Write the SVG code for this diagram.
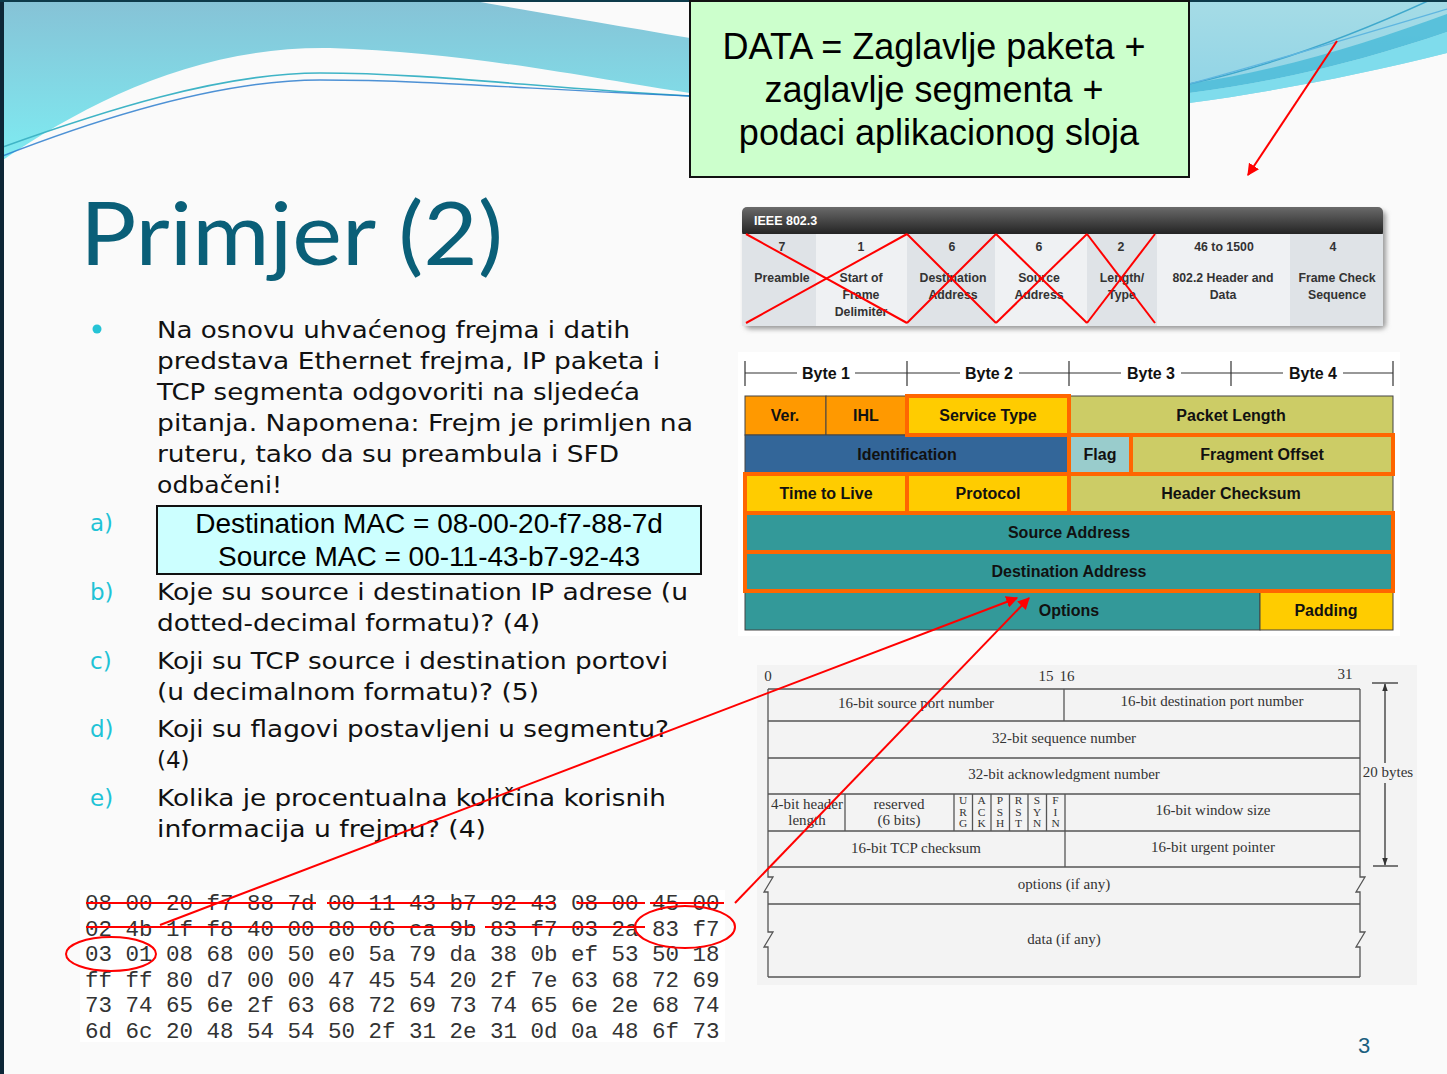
<svg xmlns="http://www.w3.org/2000/svg" width="1447" height="1074" viewBox="0 0 1447 1074">
  <defs>
    <style>
      .body { font-family: "DejaVu Sans", Verdana, sans-serif; font-size: 23px; fill: #111; }
      .lbl { font-family: "DejaVu Sans", Verdana, sans-serif; font-size: 23px; fill: #1fc3d6; }
      .arial { font-family: "Liberation Sans", Arial, sans-serif; }
      .ieee { font-family: "Liberation Sans", Arial, sans-serif; font-size: 12.3px; font-weight: bold; fill: #333; text-anchor: middle; }
      .ip { font-family: "Liberation Sans", Arial, sans-serif; font-size: 16px; font-weight: bold; fill: #111; text-anchor: middle; }
      .ipcell { stroke: #444; stroke-width: 1; }
      .hl { fill: none; stroke: #ff6600; stroke-width: 4; }
      .tcp { font-family: "Liberation Serif", "Times New Roman", serif; font-size: 15px; fill: #333; text-anchor: middle; }
      .flag { font-family: "Liberation Serif", "Times New Roman", serif; font-size: 11.4px; fill: #333; text-anchor: middle; }
      .tline { stroke: #555; stroke-width: 1.3; fill: none; }
      .hex { font-family: "Liberation Mono", "Courier New", monospace; font-size: 22.5px; fill: #333; }
      .red { stroke: #ff0000; stroke-width: 2; fill: none; }
    </style>
    <linearGradient id="skyL" x1="0" y1="0" x2="0" y2="1">
      <stop offset="0" stop-color="#86c2d6"/>
      <stop offset="1" stop-color="#7eecf2"/>
    </linearGradient>
    <linearGradient id="skyR" x1="0" y1="0" x2="0" y2="1">
      <stop offset="0" stop-color="#a6dce6"/>
      <stop offset="1" stop-color="#8ed3e6"/>
    </linearGradient>
    <linearGradient id="bar" x1="0" y1="0" x2="0" y2="1">
      <stop offset="0" stop-color="#6a6a6a"/>
      <stop offset="1" stop-color="#1c1c1c"/>
    </linearGradient>
    <filter id="soft" x="-5%" y="-5%" width="110%" height="120%">
      <feGaussianBlur stdDeviation="2.5"/>
    </filter>
    <marker id="arrow" viewBox="0 0 10 10" refX="9" refY="5" markerWidth="6" markerHeight="6" orient="auto" markerUnits="strokeWidth">
      <path d="M0,0 L10,5 L0,10 z" fill="#ff0000"/>
    </marker>
    <marker id="dimTip" viewBox="0 0 10 10" refX="9" refY="5" markerWidth="8" markerHeight="8" orient="auto" markerUnits="userSpaceOnUse">
      <path d="M0,1.5 L10,5 L0,8.5 z" fill="#333"/>
    </marker>
  </defs>

  <!-- slide background -->
  <rect x="0" y="0" width="1447" height="1074" fill="#fafafa"/>

  <!-- decorative swoosh, left -->
  <g id="swoosh-left">
    <path d="M0,0 L690,0 L690,93 C600,80 470,52 330,48 C200,46 90,100 0,162 Z" fill="url(#skyL)"/>
    <path d="M470,0 L690,0 L690,38 C610,24 540,13 470,0 Z" fill="#fafafa"/>
    <path d="M0,148 C100,112 220,73 320,73 C430,73 540,88 690,96" fill="none" stroke="#3fb4c6" stroke-width="1.6"/>
    <path d="M0,157 C100,118 220,80 320,80 C430,80 540,90 690,96" fill="none" stroke="#2277cc" stroke-width="1.4" opacity="0.8"/>
  </g>

  <!-- decorative swoosh, right -->
  <g id="swoosh-right">
    <path d="M1189,0 L1447,0 L1447,53 C1360,75 1270,92 1189,103 Z" fill="url(#skyR)"/>
    <path d="M1189,84 C1290,68 1370,42 1447,14 L1447,32 C1370,58 1290,80 1189,93 Z" fill="#4cbcd8" opacity="0.85"/>
    <path d="M1189,93 C1290,80 1370,58 1447,32 L1447,53 C1360,75 1270,92 1189,103 Z" fill="#7fdcec"/>
    <path d="M1189,84 C1280,64 1360,32 1430,0" fill="none" stroke="#3fa8cc" stroke-width="1.4"/>
    <path d="M1189,84 C1270,62 1330,44 1447,9" fill="none" stroke="#5fb6e0" stroke-width="1.2"/>
  </g>

  <!-- slide frame edges -->
  <rect x="0" y="0" width="4" height="1074" fill="#0d2636"/>
  <rect x="0" y="0" width="1447" height="2" fill="#0d3a4a"/>

  <!-- title -->
  <text x="80" y="265" font-family="Lato, 'Open Sans', sans-serif" font-size="88" fill="#0a5f78" textLength="423" lengthAdjust="spacingAndGlyphs">Primjer (2)</text>

  <!-- DATA definition box -->
  <g id="data-box">
    <rect x="690" y="1" width="499" height="176" fill="#ccffcc" stroke="#111" stroke-width="2"/>
    <text class="arial" x="934" y="59" font-size="36" text-anchor="middle" fill="#000">DATA = Zaglavlje paketa +</text>
    <text class="arial" x="934" y="102" font-size="36" text-anchor="middle" fill="#000">zaglavlje segmenta +</text>
    <text class="arial" x="939" y="145" font-size="36" text-anchor="middle" fill="#000">podaci aplikacionog sloja</text>
  </g>

  <!-- question text -->
  <g id="questions">
    <circle cx="97" cy="329" r="4.5" fill="#25c3d5"/>
    <text class="body" x="157" y="338" textLength="473" lengthAdjust="spacingAndGlyphs">Na osnovu uhvaćenog frejma i datih</text>
    <text class="body" x="157" y="369" textLength="503" lengthAdjust="spacingAndGlyphs">predstava Ethernet frejma, IP paketa i</text>
    <text class="body" x="157" y="400" textLength="483" lengthAdjust="spacingAndGlyphs">TCP segmenta odgovoriti na sljedeća</text>
    <text class="body" x="157" y="431" textLength="536" lengthAdjust="spacingAndGlyphs">pitanja. Napomena: Frejm je primljen na</text>
    <text class="body" x="157" y="462" textLength="462" lengthAdjust="spacingAndGlyphs">ruteru, tako da su preambula i SFD</text>
    <text class="body" x="157" y="493" textLength="125" lengthAdjust="spacingAndGlyphs">odbačeni!</text>

    <text class="lbl" x="90" y="531">a)</text>
    <text class="lbl" x="90" y="600">b)</text>
    <text class="body" x="157" y="600" textLength="531" lengthAdjust="spacingAndGlyphs">Koje su source i destination IP adrese (u</text>
    <text class="body" x="157" y="631" textLength="383" lengthAdjust="spacingAndGlyphs">dotted-decimal formatu)? (4)</text>
    <text class="lbl" x="90" y="669">c)</text>
    <text class="body" x="157" y="669" textLength="511" lengthAdjust="spacingAndGlyphs">Koji su TCP source i destination portovi</text>
    <text class="body" x="157" y="700" textLength="382" lengthAdjust="spacingAndGlyphs">(u decimalnom formatu)? (5)</text>
    <text class="lbl" x="90" y="737">d)</text>
    <text class="body" x="157" y="737" textLength="512" lengthAdjust="spacingAndGlyphs">Koji su flagovi postavljeni u segmentu?</text>
    <text class="body" x="157" y="768">(4)</text>
    <text class="lbl" x="90" y="806">e)</text>
    <text class="body" x="157" y="806" textLength="509" lengthAdjust="spacingAndGlyphs">Kolika je procentualna količina korisnih</text>
    <text class="body" x="157" y="837" textLength="329" lengthAdjust="spacingAndGlyphs">informacija u frejmu? (4)</text>
  </g>

  <!-- answer box for a) -->
  <g id="mac-box">
    <rect x="157" y="506" width="544" height="68" fill="#ccffff" stroke="#111" stroke-width="2"/>
    <text class="arial" x="429" y="533" font-size="28" text-anchor="middle" fill="#000">Destination MAC = 08-00-20-f7-88-7d</text>
    <text class="arial" x="429" y="566" font-size="28" text-anchor="middle" fill="#000">Source MAC = 00-11-43-b7-92-43</text>
  </g>

  <!-- IEEE 802.3 frame -->
  <g id="ieee-frame">
    <rect x="745" y="211" width="641" height="118" rx="5" fill="#9a9a9a" filter="url(#soft)"/>
    <rect x="742" y="207" width="641" height="30" rx="5" fill="url(#bar)"/>
    <rect x="742" y="234" width="74" height="92" fill="#dfe3e7"/>
    <rect x="816" y="234" width="91" height="92" fill="#eff1f3"/>
    <rect x="907" y="234" width="88" height="92" fill="#dfe3e7"/>
    <rect x="995" y="234" width="92" height="92" fill="#eff1f3"/>
    <rect x="1087" y="234" width="70" height="92" fill="#dfe3e7"/>
    <rect x="1157" y="234" width="133" height="92" fill="#eff1f3"/>
    <rect x="1290" y="234" width="93" height="92" fill="#dfe3e7"/>
    <text x="754" y="225" font-family="Liberation Sans, Arial, sans-serif" font-size="12.5" font-weight="bold" fill="#fff">IEEE 802.3</text>

    <text class="ieee" x="782" y="251">7</text>
    <text class="ieee" x="861" y="251">1</text>
    <text class="ieee" x="952" y="251">6</text>
    <text class="ieee" x="1039" y="251">6</text>
    <text class="ieee" x="1121" y="251">2</text>
    <text class="ieee" x="1224" y="251">46 to 1500</text>
    <text class="ieee" x="1333" y="251">4</text>

    <text class="ieee" x="782" y="282">Preamble</text>
    <text class="ieee" x="861" y="282">Start of</text>
    <text class="ieee" x="861" y="299">Frame</text>
    <text class="ieee" x="861" y="316">Delimiter</text>
    <text class="ieee" x="953" y="282">Destination</text>
    <text class="ieee" x="953" y="299">Address</text>
    <text class="ieee" x="1039" y="282">Source</text>
    <text class="ieee" x="1039" y="299">Address</text>
    <text class="ieee" x="1122" y="282">Length/</text>
    <text class="ieee" x="1122" y="299">Type</text>
    <text class="ieee" x="1223" y="282">802.2 Header and</text>
    <text class="ieee" x="1223" y="299">Data</text>
    <text class="ieee" x="1337" y="282">Frame Check</text>
    <text class="ieee" x="1337" y="299">Sequence</text>
  </g>

  <!-- IPv4 header -->
  <g id="ip-header">
    <rect x="738" y="352" width="662" height="284" fill="#ffffff"/>
    <g stroke="#333" stroke-width="1.2">
      <line x1="745" y1="361" x2="745" y2="386"/>
      <line x1="907" y1="361" x2="907" y2="386"/>
      <line x1="1069" y1="361" x2="1069" y2="386"/>
      <line x1="1231" y1="361" x2="1231" y2="386"/>
      <line x1="1393" y1="361" x2="1393" y2="386"/>
      <line x1="745" y1="373" x2="797" y2="373"/>
      <line x1="855" y1="373" x2="907" y2="373"/>
      <line x1="907" y1="373" x2="960" y2="373"/>
      <line x1="1019" y1="373" x2="1069" y2="373"/>
      <line x1="1069" y1="373" x2="1121" y2="373"/>
      <line x1="1181" y1="373" x2="1231" y2="373"/>
      <line x1="1231" y1="373" x2="1283" y2="373"/>
      <line x1="1343" y1="373" x2="1393" y2="373"/>
    </g>
    <text class="ip" x="826" y="379">Byte 1</text>
    <text class="ip" x="989" y="379">Byte 2</text>
    <text class="ip" x="1151" y="379">Byte 3</text>
    <text class="ip" x="1313" y="379">Byte 4</text>

    <rect class="ipcell" x="745" y="396" width="81" height="39" fill="#ff9900"/>
    <rect class="ipcell" x="826" y="396" width="81" height="39" fill="#ff9900"/>
    <rect class="ipcell" x="907" y="396" width="162" height="39" fill="#ffcc00"/>
    <rect class="ipcell" x="1069" y="396" width="324" height="39" fill="#cccc66"/>
    <rect class="ipcell" x="745" y="435" width="324" height="39" fill="#336699"/>
    <rect class="ipcell" x="1069" y="435" width="62" height="39" fill="#99cccc"/>
    <rect class="ipcell" x="1131" y="435" width="262" height="39" fill="#cccc66"/>
    <rect class="ipcell" x="745" y="474" width="162" height="39" fill="#ffcc00"/>
    <rect class="ipcell" x="907" y="474" width="162" height="39" fill="#ffcc00"/>
    <rect class="ipcell" x="1069" y="474" width="324" height="39" fill="#cccc66"/>
    <rect class="ipcell" x="745" y="513" width="648" height="39" fill="#339999"/>
    <rect class="ipcell" x="745" y="552" width="648" height="39" fill="#339999"/>
    <rect class="ipcell" x="745" y="591" width="515" height="39" fill="#339999"/>
    <rect class="ipcell" x="1260" y="591" width="133" height="39" fill="#ffcc00"/>

    <rect class="hl" x="907" y="396" width="162" height="39"/>
    <rect class="hl" x="1069" y="435" width="62" height="39"/>
    <rect class="hl" x="1131" y="435" width="262" height="39"/>
    <rect class="hl" x="745" y="474" width="162" height="39"/>
    <rect class="hl" x="907" y="474" width="162" height="39"/>
    <rect class="hl" x="745" y="513" width="648" height="39"/>
    <rect class="hl" x="745" y="552" width="648" height="39"/>

    <text class="ip" x="785" y="421">Ver.</text>
    <text class="ip" x="866" y="421">IHL</text>
    <text class="ip" x="988" y="421">Service Type</text>
    <text class="ip" x="1231" y="421">Packet Length</text>
    <text class="ip" x="907" y="460">Identification</text>
    <text class="ip" x="1100" y="460">Flag</text>
    <text class="ip" x="1262" y="460">Fragment Offset</text>
    <text class="ip" x="826" y="499">Time to Live</text>
    <text class="ip" x="988" y="499">Protocol</text>
    <text class="ip" x="1231" y="499">Header Checksum</text>
    <text class="ip" x="1069" y="538">Source Address</text>
    <text class="ip" x="1069" y="577">Destination Address</text>
    <text class="ip" x="1069" y="616">Options</text>
    <text class="ip" x="1326" y="616">Padding</text>
  </g>

  <!-- TCP header -->
  <g id="tcp-header">
    <rect x="757" y="665" width="660" height="320" fill="#f3f3f3"/>
    <text class="tcp" x="768" y="681" text-anchor="start" font-size="13.5">0</text>
    <text class="tcp" x="1046" y="681" text-anchor="start" font-size="13.5">15</text>
    <text class="tcp" x="1067" y="681" text-anchor="start" font-size="13.5">16</text>
    <text class="tcp" x="1345" y="679" text-anchor="start" font-size="13.5">31</text>

    <g class="tline">
      <line x1="768" y1="689" x2="1360" y2="689"/>
      <line x1="768" y1="721" x2="1360" y2="721"/>
      <line x1="768" y1="758" x2="1360" y2="758"/>
      <line x1="768" y1="794" x2="1360" y2="794"/>
      <line x1="768" y1="831" x2="1360" y2="831"/>
      <line x1="768" y1="867" x2="1360" y2="867"/>
      <line x1="768" y1="904" x2="1360" y2="904"/>
      <line x1="768" y1="977" x2="1360" y2="977"/>
      <line x1="1064" y1="689" x2="1064" y2="721"/>
      <line x1="845" y1="794" x2="845" y2="831"/>
      <line x1="954" y1="794" x2="954" y2="831"/>
      <line x1="972.5" y1="794" x2="972.5" y2="831"/>
      <line x1="991" y1="794" x2="991" y2="831"/>
      <line x1="1009.5" y1="794" x2="1009.5" y2="831"/>
      <line x1="1028" y1="794" x2="1028" y2="831"/>
      <line x1="1046.5" y1="794" x2="1046.5" y2="831"/>
      <line x1="1065" y1="794" x2="1065" y2="867"/>
      <path d="M768,689 V877 L773,877 L764,892 L768,892 V932 L773,932 L764,947 L768,947 V977"/>
      <path d="M1360,689 V877 L1365,877 L1356,892 L1360,892 V932 L1365,932 L1356,947 L1360,947 V977"/>
    </g>

    <text class="tcp" x="916" y="708">16-bit source port number</text>
    <text class="tcp" x="1212" y="706">16-bit destination port number</text>
    <text class="tcp" x="1064" y="743">32-bit sequence number</text>
    <text class="tcp" x="1064" y="779">32-bit acknowledgment number</text>
    <text class="tcp" x="807" y="809" font-size="14">4-bit header</text>
    <text class="tcp" x="807" y="825" font-size="14">length</text>
    <text class="tcp" x="899" y="809" font-size="14">reserved</text>
    <text class="tcp" x="899" y="825" font-size="14">(6 bits)</text>
    <text class="flag" x="963" y="804">U</text><text class="flag" x="963" y="815.6">R</text><text class="flag" x="963" y="827.2">G</text>
    <text class="flag" x="981.5" y="804">A</text><text class="flag" x="981.5" y="815.6">C</text><text class="flag" x="981.5" y="827.2">K</text>
    <text class="flag" x="1000" y="804">P</text><text class="flag" x="1000" y="815.6">S</text><text class="flag" x="1000" y="827.2">H</text>
    <text class="flag" x="1018.5" y="804">R</text><text class="flag" x="1018.5" y="815.6">S</text><text class="flag" x="1018.5" y="827.2">T</text>
    <text class="flag" x="1037" y="804">S</text><text class="flag" x="1037" y="815.6">Y</text><text class="flag" x="1037" y="827.2">N</text>
    <text class="flag" x="1055.5" y="804">F</text><text class="flag" x="1055.5" y="815.6">I</text><text class="flag" x="1055.5" y="827.2">N</text>
    <text class="tcp" x="1213" y="815">16-bit window size</text>
    <text class="tcp" x="916" y="853">16-bit TCP checksum</text>
    <text class="tcp" x="1213" y="852">16-bit urgent pointer</text>
    <text class="tcp" x="1064" y="889">options (if any)</text>
    <text class="tcp" x="1064" y="944">data (if any)</text>

    <!-- 20-byte span marker -->
    <g stroke="#333" stroke-width="1.3">
      <line x1="1372" y1="683" x2="1398" y2="683"/>
      <line x1="1373" y1="866" x2="1398" y2="866"/>
      <line x1="1385" y1="763" x2="1385" y2="684" marker-end="url(#dimTip)"/>
      <line x1="1385" y1="783" x2="1385" y2="865" marker-end="url(#dimTip)"/>
    </g>
    <text class="tcp" x="1388" y="777" font-size="14">20 bytes</text>
  </g>

  <!-- captured frame, hex -->
  <g id="hex-dump">
    <rect x="80" y="890" width="645" height="152" fill="#ffffff"/>
    <text class="hex" x="85" y="910">08 00 20 f7 88 7d 00 11 43 b7 92 43 08 00 45 00</text>
    <text class="hex" x="85" y="935.5">02 4b 1f f8 40 00 80 06 ca 9b 83 f7 03 2a 83 f7</text>
    <text class="hex" x="85" y="961">03 01 08 68 00 50 e0 5a 79 da 38 0b ef 53 50 18</text>
    <text class="hex" x="85" y="986.5">ff ff 80 d7 00 00 47 45 54 20 2f 7e 63 68 72 69</text>
    <text class="hex" x="85" y="1012">73 74 65 6e 2f 63 68 72 69 73 74 65 6e 2e 68 74</text>
    <text class="hex" x="85" y="1037.5">6d 6c 20 48 54 54 50 2f 31 2e 31 0d 0a 48 6f 73</text>
  </g>

  <!-- red markings: struck-out fields and highlighted bytes -->
  <g id="markings" class="red">
    <line x1="746" y1="234" x2="907" y2="323"/>
    <line x1="746" y1="323" x2="907" y2="234"/>
    <line x1="907" y1="234" x2="996" y2="323"/>
    <line x1="907" y1="323" x2="996" y2="234"/>
    <line x1="996" y1="234" x2="1087" y2="323"/>
    <line x1="996" y1="323" x2="1087" y2="234"/>
    <line x1="1087" y1="234" x2="1155" y2="323"/>
    <line x1="1087" y1="323" x2="1155" y2="234"/>

    <line x1="86" y1="903" x2="316" y2="903"/>
    <line x1="327" y1="903" x2="555" y2="903"/>
    <line x1="577" y1="903" x2="645" y2="903"/>
    <line x1="650" y1="903" x2="724" y2="903"/>
    <line x1="86" y1="927" x2="475" y2="927"/>
    <line x1="485" y1="927" x2="645" y2="927"/>

    <ellipse cx="685" cy="927" rx="50" ry="21"/>
    <ellipse cx="111" cy="954" rx="45" ry="17"/>
  </g>

  <!-- connectors -->
  <g id="connectors" class="red">
    <line x1="1337" y1="41" x2="1248" y2="175" marker-end="url(#arrow)"/>
    <line x1="160" y1="925" x2="1017" y2="598" marker-end="url(#arrow)"/>
    <line x1="735" y1="903" x2="1029" y2="598" marker-end="url(#arrow)"/>
  </g>

  <!-- page number -->
  <text x="1364" y="1053" font-family="Liberation Sans, Arial, sans-serif" font-size="22" fill="#1b5f7f" text-anchor="middle">3</text>
</svg>
